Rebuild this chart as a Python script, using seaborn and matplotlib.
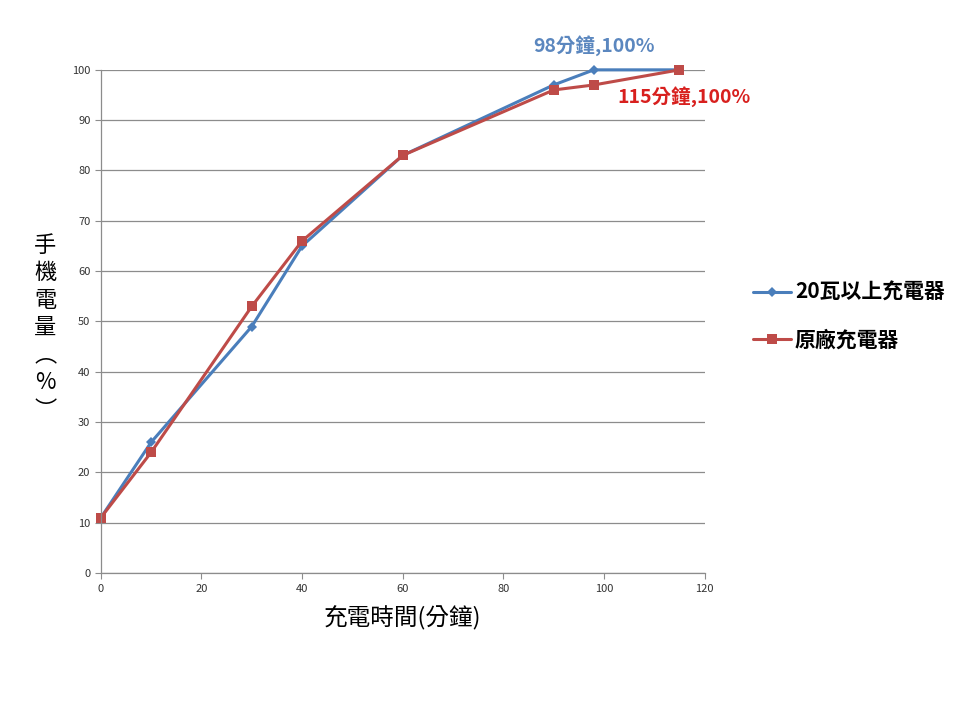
import matplotlib
matplotlib.use("Agg")
import matplotlib.pyplot as plt
import seaborn as sns
import pandas as pd
from matplotlib.lines import Line2D

minutes = [0, 10, 30, 40, 60, 90, 98, 115]
fast_charger = [11, 26, 49, 65, 83, 97, 100, 100]
original_charger = [11, 24, 53, 66, 83, 96, 97, 100]
series_names = ["20瓦以上充電器", "原廠充電器"]

sns.set_theme(style="white")
plt.rcParams['font.family'] = ['Noto Sans CJK TC', 'DejaVu Sans']

df = pd.concat([
    pd.DataFrame({"x": minutes, "y": fast_charger, "s": series_names[0]}),
    pd.DataFrame({"x": minutes, "y": original_charger, "s": series_names[1]}),
])

fig = plt.figure(figsize=(9.6, 7.2), dpi=100)
ax = fig.add_axes([0.105, 0.204, 0.629, 0.699])

blue = "#4A7EBB"
red = "#BE4B48"
sns.lineplot(data=df, x="x", y="y", hue="s", style="s",
             palette={series_names[0]: blue, series_names[1]: red},
             markers={series_names[0]: "D", series_names[1]: "s"},
             dashes=False, linewidth=2.2, ax=ax, legend=False,
             markersize=6.5, markeredgewidth=0)
for ln in ax.get_lines():
    ln.set_clip_on(False)
    if ln.get_marker() == "D":
        ln.set_markersize(5.5)
    else:
        ln.set_markersize(7.5)

ax.set_xlim(0, 120)
ax.set_ylim(0, 100)
ax.set_xticks(range(0, 121, 20))
ax.set_yticks(range(0, 101, 10))
ax.yaxis.grid(True, color="#8C8C8C", linewidth=0.9)
ax.xaxis.grid(False)
ax.set_axisbelow(True)
for sp in ["top", "right"]:
    ax.spines[sp].set_visible(False)
for sp in ["left", "bottom"]:
    ax.spines[sp].set_color("#8C8C8C")
    ax.spines[sp].set_linewidth(0.9)
ax.tick_params(axis="both", labelsize=8, colors="#333333", length=4,
               direction="out", width=0.8, color="#8C8C8C", left=True, bottom=True)
ax.set_xlabel("充電時間(分鐘)", fontsize=17, color="black", labelpad=9)
ax.set_ylabel("")
fig.text(0.047, 0.545, "手\n機\n電\n量\n︵\n%\n︶", fontsize=16, ha="center",
         va="center", linespacing=1.25, color="black")

ax.annotate("98分鐘,100%", xy=(98, 100), xytext=(0, 10), textcoords="offset points",
            ha="center", va="bottom", fontsize=14, fontweight="bold", color="#5B87BF")
ax.annotate("115分鐘,100%", xy=(115, 100), xytext=(3, -12), textcoords="offset points",
            ha="center", va="top", fontsize=14, fontweight="bold", color="#D8201E")

handles = [
    Line2D([], [], color=blue, marker="D", markersize=5, linewidth=2.2, markeredgewidth=0),
    Line2D([], [], color=red, marker="s", markersize=7, linewidth=2.2, markeredgewidth=0),
]
fig.legend(handles, series_names, loc="center left", bbox_to_anchor=(0.765, 0.561),
           frameon=False, handlelength=1.8, handletextpad=0.2, labelcolor="black",
           labelspacing=1.25, prop={"weight": "bold", "size": 15})

fig.savefig("out.png", dpi=100)
